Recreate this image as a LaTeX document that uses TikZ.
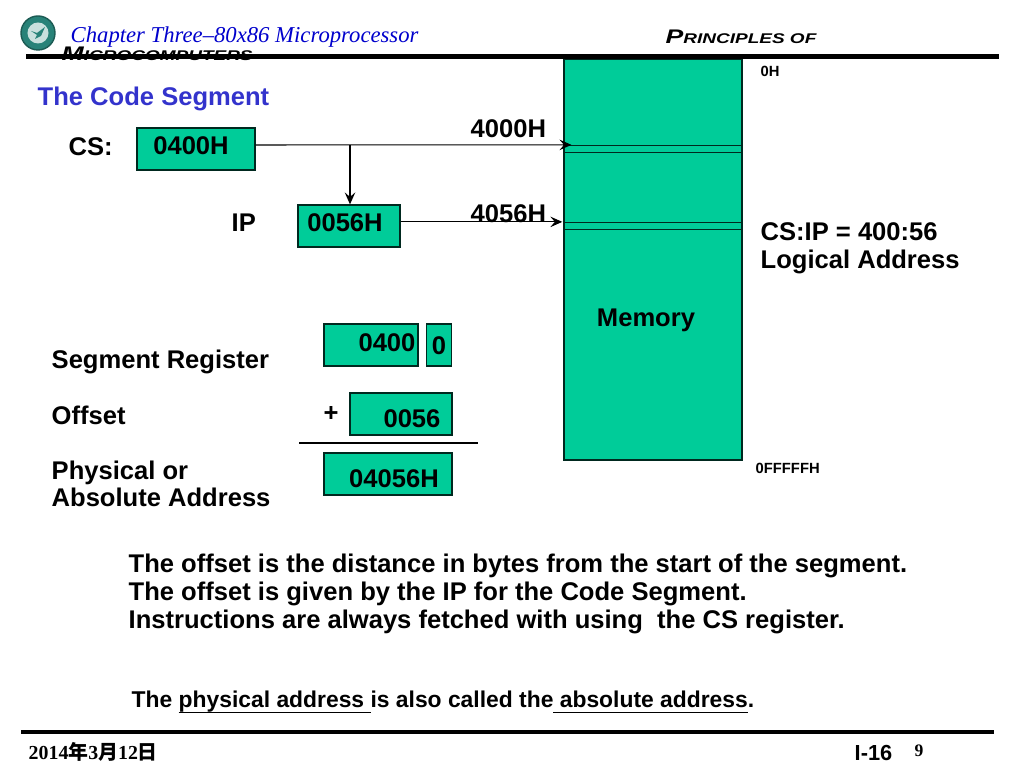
\documentclass[tikz,border=0pt]{standalone}
\usepackage{fontspec}
\setmainfont{Liberation Serif}
\setsansfont{Liberation Sans}
\newfontfamily\cjk{Noto Sans CJK SC}
\newfontfamily\widefont[FakeStretch=1.35]{Liberation Sans}
\usetikzlibrary{arrows.meta}
\definecolor{memgreen}{RGB}{0,204,153}
\definecolor{titleblue}{RGB}{51,51,204}
\definecolor{chapblue}{RGB}{0,0,204}
\definecolor{logoteal}{RGB}{40,130,120}
\newcommand{\headtext}[2]{{\fontsize{5.6pt}{6pt}\selectfont\widefont\bfseries\itshape #1}{\fontsize{4pt}{5pt}\selectfont\widefont\bfseries\itshape #2}}
\tikzset{
  label/.style={font=\sffamily\bfseries\fontsize{7.27pt}{7.85pt}\selectfont, align=left, anchor=west, inner sep=0pt, text=black},
  small/.style={font=\sffamily\bfseries\fontsize{4.2pt}{5pt}\selectfont, anchor=west, inner sep=0pt},
  reg/.style={draw=black!80!memgreen, fill=memgreen, line width=0.35pt, inner sep=0pt},
  cell/.style={draw=black!80!memgreen, fill=memgreen, line width=0.35pt, inner sep=0pt, minimum width=1.78cm},
  rule/.style={line width=1.3pt, black},
  conn/.style={line width=0.3pt, -{Stealth[length=3.4pt,width=3pt,inset=1.3pt]}}
}
\begin{document}
\begin{tikzpicture}[x=0.01cm,y=-0.01cm]
  \useasboundingbox (0,0) rectangle (1024,768);

  % Header
  \node[circle, fill=logoteal, draw=logoteal!70!black, minimum size=0.34cm, inner sep=0pt] (logo) at (38,33) {};
  \node[circle, fill=white!75!logoteal, minimum size=0.21cm, inner sep=0pt] (logoin) at (38,33) {};
  \fill[logoteal] (31,31) -- (37,33) -- (45,27) -- (41,36) -- (35,39) -- (37,35) -- cycle;
  \node[label, font=\rmfamily\itshape\fontsize{6.45pt}{7pt}\selectfont, text=chapblue] (chapter) at (70,37) {Chapter Three--80x86 Microprocessor};
  \node[label, font=\normalfont, anchor=base west] (princ) at (665,44) {\headtext{P}{RINCIPLES OF}};
  \node[label, font=\normalfont, anchor=base west] (micro) at (61,61) {\headtext{M}{ICROCOMPUTERS}};
  \draw[rule] (26,56.3) -- (999,56.3);
  \node[label, text=titleblue] (title) at (37,99) {The Code Segment};

  % Memory
  \node[cell, minimum height=4cm] (memory) at (653,260) {};
  \node[label, anchor=center] (memlabel) at (646,320) {Memory};
  \node[cell, minimum height=0.07cm] (slota) at (653,149) {};
  \node[cell, minimum height=0.07cm] (slotb) at (653,226) {};
  \node[small] (top) at (760,71) {0H};
  \node[small] (bottom) at (755,468) {0FFFFFH};

  % Registers
  \node[label] (cslabel) at (68,147) {CS:};
  \node[reg, minimum width=1.18cm, minimum height=0.42cm] (cs) at (196,149) {};
  \node[label, anchor=center] (csval) at (191,146) {0400H};
  \node[label] (iplabel) at (231,223) {IP};
  \node[reg, minimum width=1.02cm, minimum height=0.42cm] (ip) at (349,226) {};
  \node[label, anchor=center] (ipval) at (345,223) {0056H};
  \node[label] (adra) at (470,129) {4000H};
  \node[label] (adrb) at (470,214) {4056H};
  \coordinate (branch) at (350,145);
  \draw[conn] (cs.east |- branch) -- ([xshift=2.3pt]slota.north west);
  \draw[conn] (branch) -- (ip.north -| branch);
  \draw[conn] (ip.east |- slotb.north) -- ([xshift=-0.3pt]slotb.north west);
  \node[label] (logical) at (760,248) {CS:IP = 400:56\\Logical Address};

  % Sum
  \node[label] (seglabel) at (51,362) {Segment Register};
  \node[reg, minimum width=0.94cm, minimum height=0.42cm] (seg) at (371,345) {};
  \node[label, anchor=center] (segval) at (387,343) {0400};
  \node[reg, minimum width=0.25cm, minimum height=0.42cm] (zero) at (439,345) {};
  \node[label, anchor=center] (zeroval) at (439,346) {0};
  \node[label] (offlabel) at (51,415) {Offset};
  \node[label, anchor=center] (plus) at (331,414) {+};
  \node[reg, minimum width=1.02cm, minimum height=0.42cm] (off) at (401,414) {};
  \node[label, anchor=center] (offval) at (412,419) {0056};
  \coordinate (suma) at (299,443);
  \coordinate (sumb) at (478,443);
  \draw[line width=0.3pt] (suma) -- (sumb);
  \node[label] (phylabel) at (51,484) {Physical or\\Absolute Address};
  \node[reg, minimum width=1.28cm, minimum height=0.42cm] (phy) at (388,474) {};
  \node[label, anchor=center] (phyval) at (394,479) {04056H};

  % Notes
  \node[label] (notes) at (128,594) {The offset is the distance in bytes from the start of the segment.\\The offset is given by the IP for the Code Segment.\\Instructions are always fetched with using\ \ the CS register.};
  \node[label, font=\sffamily\bfseries\fontsize{6.5pt}{7pt}\selectfont] (absnote) at (131,703) {The \underline{\smash{physical address\ }}is also called the\underline{\smash{\ absolute address}}.};

  % Footer
  \draw[rule] (21,732) -- (994,732);
  \node[label, font=\rmfamily\bfseries\fontsize{5.65pt}{6pt}\selectfont] (date) at (28,752) {2014{\cjk 年}3{\cjk 月}12{\cjk 日}};
  \node[label, font=\sffamily\bfseries\fontsize{6.2pt}{7pt}\selectfont] (part) at (854,753) {I-16};
  \node[label, font=\rmfamily\bfseries\fontsize{5pt}{6pt}\selectfont] (page) at (914,751) {9};
\end{tikzpicture}
\end{document}
